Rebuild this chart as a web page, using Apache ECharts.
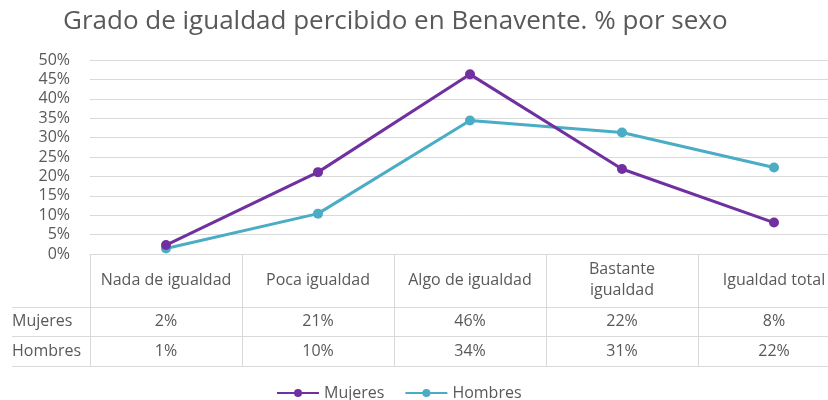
<!DOCTYPE html>
<html>
<head>
<meta charset="utf-8">
<script src="https://cdn.jsdelivr.net/npm/echarts@6/dist/echarts.min.js"></script>
<style>html,body{margin:0;padding:0;background:#fff}#c{width:828px;height:400px}</style>
</head>
<body>
<div id="c"></div>
<script>
var titleText = 'Grado de igualdad percibido en Benavente. % por sexo';
var categories = ['Nada de igualdad', 'Poca igualdad', 'Algo de igualdad', 'Bastante\nigualdad', 'Igualdad total'];
var seriesNames = ['Mujeres', 'Hombres'];
var mujeres = [0.023, 0.211, 0.463, 0.219, 0.081];
var hombres = [0.014, 0.104, 0.344, 0.313, 0.223];
var yTicks = [0, 0.05, 0.10, 0.15, 0.20, 0.25, 0.30, 0.35, 0.40, 0.45, 0.50];
var colors = ['#7030A0', '#4BACC6'];

var FONT = 'Open Sans';
var TXT = '#595959';
var LINE = '#d9d9d9';
function pct(v) { return Math.round(v * 100) + '%'; }

var chart = echarts.init(document.getElementById('c'), null, {renderer: 'canvas'});

function tableAxis(vals, margin) {
  return {
    type: 'category', position: 'bottom', gridIndex: 0,
    data: vals.map(pct),
    axisLine: {show: false}, axisTick: {show: false}, splitLine: {show: false},
    axisLabel: {margin: margin, verticalAlign: 'middle', color: TXT, fontFamily: FONT, fontSize: 16, interval: 0}
  };
}

var option = {
  backgroundColor: '#ffffff',
  animation: false,
  title: {
    text: titleText, left: 58, top: 4,
    textStyle: {fontFamily: FONT, fontWeight: 400, fontSize: 26, color: TXT}
  },
  grid: {left: 90, top: 60, width: 760, height: 194, containLabel: false, outerBoundsMode: 'none'},
  legend: {
    top: 380, left: 271, itemWidth: 42, itemHeight: 10, itemGap: 20,
    textStyle: {fontFamily: FONT, fontSize: 16, color: TXT},
    data: seriesNames
  },
  xAxis: [
    {
      type: 'category', position: 'bottom', data: categories,
      axisLine: {show: true, lineStyle: {color: LINE, width: 1}},
      axisTick: {show: true, length: 112, lineStyle: {color: LINE, width: 1}},
      axisLabel: {margin: 26, verticalAlign: 'middle', color: TXT, fontFamily: FONT, fontSize: 16, lineHeight: 21, interval: 0},
      splitLine: {show: false}
    },
    tableAxis(mujeres, 67),
    tableAxis(hombres, 97)
  ],
  yAxis: {
    type: 'value', min: yTicks[0], max: yTicks[yTicks.length - 1], interval: 0.05,
    axisLine: {show: false}, axisTick: {show: false},
    axisLabel: {formatter: pct, margin: 20, color: TXT, fontFamily: FONT, fontSize: 16},
    splitLine: {lineStyle: {color: LINE, width: 1}}
  },
  series: [
    {name: seriesNames[0], type: 'line', data: mujeres, color: colors[0], symbol: 'circle', symbolSize: 10,
     lineStyle: {width: 3, color: colors[0]}, itemStyle: {color: colors[0]}, z: 3},
    {name: seriesNames[1], type: 'line', data: hombres, color: colors[1], symbol: 'circle', symbolSize: 10,
     lineStyle: {width: 3, color: colors[1]}, itemStyle: {color: colors[1]}, z: 2}
  ],
  graphic: [
    {type: 'line', shape: {x1: 12, y1: 307.5, x2: 828, y2: 307.5}, style: {stroke: LINE, lineWidth: 1}},
    {type: 'line', shape: {x1: 12, y1: 336.5, x2: 828, y2: 336.5}, style: {stroke: LINE, lineWidth: 1}},
    {type: 'line', shape: {x1: 12, y1: 366.5, x2: 828, y2: 366.5}, style: {stroke: LINE, lineWidth: 1}},
    {type: 'text', x: 12, y: 321.5, style: {text: seriesNames[0], fill: TXT, font: '16px "' + FONT + '"', verticalAlign: 'middle'}},
    {type: 'text', x: 12, y: 351, style: {text: seriesNames[1], fill: TXT, font: '16px "' + FONT + '"', verticalAlign: 'middle'}}
  ]
};
chart.setOption(option);
</script>
</body>
</html>
